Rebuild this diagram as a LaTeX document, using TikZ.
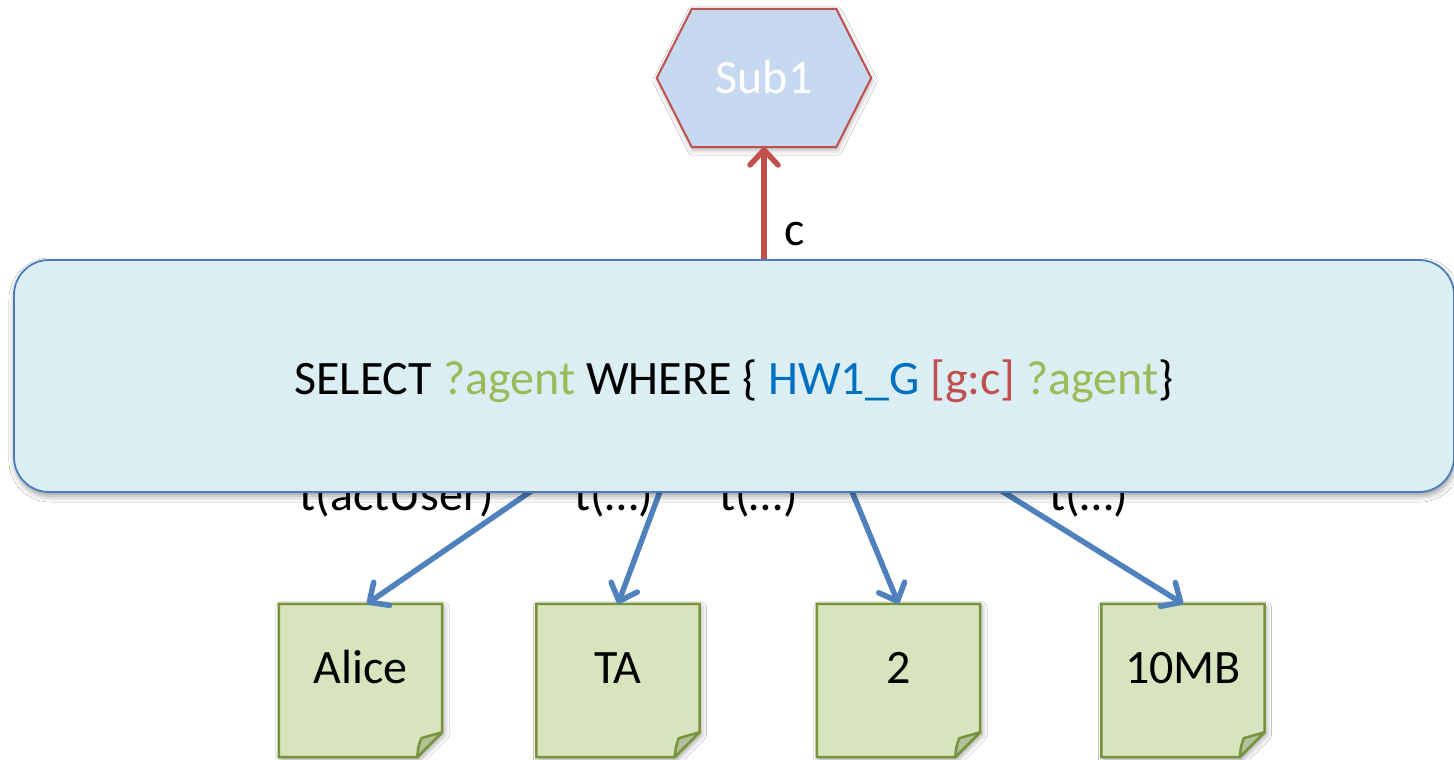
\documentclass[tikz,border=0pt]{standalone}
\usepackage{fontspec}
\setmainfont{Carlito}
\usetikzlibrary{arrows.meta,backgrounds,shadows.blur}

\definecolor{qfill}{HTML}{DBEEF4}
\definecolor{qline}{HTML}{4A7EBB}
\definecolor{hexfill}{HTML}{C6D9F1}
\definecolor{redline}{HTML}{C0504D}
\definecolor{bluearrow}{HTML}{4F81BD}
\definecolor{notefill}{HTML}{D7E4BD}
\definecolor{noteline}{HTML}{77933C}
\definecolor{foldfill}{HTML}{B3C09A}
\definecolor{vargreen}{HTML}{9BBB59}
\definecolor{resblue}{HTML}{0070C0}

\begin{document}
\begin{tikzpicture}[x=1pt,y=-1pt,
  every node/.style={font=\fontsize{48}{56}\selectfont, inner sep=0pt},
  hexnode/.style={minimum width=214pt, minimum height=138pt, text=white,
    text height=32pt, text depth=2pt},
  hexshape/.style={draw=redline, line width=2pt, fill=hexfill,
    blur shadow={shadow xshift=1pt, shadow yshift=-3pt, shadow blur radius=5pt, shadow opacity=30}},
  notenode/.style={minimum width=163pt, minimum height=153pt,
    text height=20pt, text depth=15pt},
  noteshape/.style={draw=noteline, line width=2.5pt, fill=notefill, line join=miter,
    blur shadow={shadow xshift=2pt, shadow yshift=-3pt, shadow blur radius=5pt, shadow opacity=35}},
  foldshape/.style={draw=noteline, line width=2.5pt, fill=foldfill, line join=round},
  edgelabel/.style={anchor=base},
  query/.style={draw=qline, line width=1.8pt, fill=qfill, rounded corners=35pt,
    minimum width=1440pt, minimum height=232pt, text height=40pt, text depth=4pt,
    blur shadow={shadow xshift=1pt, shadow yshift=-4pt, shadow blur radius=6pt, shadow opacity=40}},
  tarrow/.style={draw=bluearrow, line width=5.5pt,
    -{Straight Barb[length=15pt, width=28pt, round]}},
  carrow/.style={draw=redline, line width=5.5pt,
    -{Straight Barb[length=15pt, width=28pt, round]}}
]
\useasboundingbox (0,0) rectangle (1454,760);

% subscriber hexagon and the result notes
\node[hexnode] (sub) at (764,78) {Sub1};
\node[notenode] (n1) at (360.5,680.5) {Alice};
\node[notenode] (n2) at (618,680.5) {TA};
\node[notenode] (n3) at (898.5,680.5) {2};
\node[notenode] (n4) at (1183,680.5) {10MB};

% edge labels that sit partly under the query box
\node[edgelabel] (l1) at (397,510) {t(actUser)};
\node[edgelabel] (l2) at (614,510) {t(…)};
\node[edgelabel] (l3) at (758.5,510) {t(…)};
\node[edgelabel] (l4) at (1089,510) {t(…)};
\node[edgelabel] (lc) at (795,245) {c};

% hidden start points of the edges, covered by the query box
\coordinate (cs) at (764,300);
\coordinate (s1) at (562,470);
\coordinate (s2) at (668,470);
\coordinate (s3) at (843,470);
\coordinate (s4) at (968,470);

\draw[carrow] (cs) -- (sub.south);
\draw[tarrow] (s1) -- ([xshift=6.5pt]n1.north);
\draw[tarrow] (s2) -- (n2.north);
\draw[tarrow] (s3) -- (n3.north);
\draw[tarrow] (s4) -- (n4.north);

% the query box
\node[query] (q) at (734,376)
  {SELECT {\color{vargreen}?agent} WHERE \{ {\color{resblue}HW1\_G} {\color{redline}[g:c]} {\color{vargreen}?agent}\}};

\begin{pgfonlayer}{background}
  \fill[white] (0,0) rectangle (1454,760);
  \path[hexshape] (sub.west) -- ([xshift=35pt]sub.north west) -- ([xshift=-35pt]sub.north east)
    -- (sub.east) -- ([xshift=-35pt]sub.south east) -- ([xshift=35pt]sub.south west) -- cycle;
  \foreach \n in {n1,n2,n3,n4} {
    \path[noteshape] (\n.north west) -- (\n.north east) -- ([yshift=25pt]\n.south east)
      -- ([xshift=-25pt]\n.south east) -- (\n.south west) -- cycle;
    \path[foldshape] ([xshift=-25pt]\n.south east)
      .. controls ([xshift=-24pt,yshift=10pt]\n.south east) .. ([xshift=-21pt,yshift=19pt]\n.south east)
      -- ([yshift=25pt]\n.south east) -- cycle;
  }
\end{pgfonlayer}
\end{tikzpicture}
\end{document}
